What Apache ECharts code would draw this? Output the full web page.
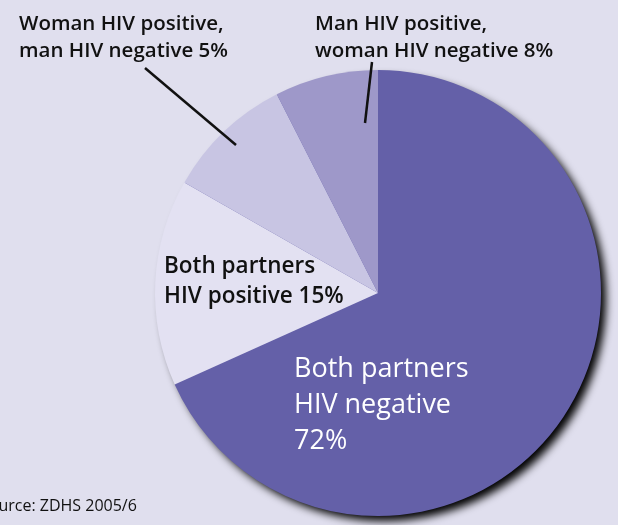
<!DOCTYPE html>
<html><head><meta charset="utf-8">
<script src="https://cdn.jsdelivr.net/npm/echarts@6/dist/echarts.min.js"></script>
<style>html,body{margin:0;padding:0;background:#e0dfee;}#c{width:618px;height:525px;}</style>
</head><body><div id="c"></div>
<script>
// slice shares as drawn (clockwise from 12 o'clock)
var categories = ['Both partners HIV negative', 'Both partners HIV positive', 'Woman HIV positive, man HIV negative', 'Man HIV positive, woman HIV negative'];
var values = [68.3, 15.0, 9.25, 7.5];
var labelPercents = ['72%', '15%', '5%', '8%'];
var colors = ['#6460a8', '#e3e1f2', '#c8c5e3', '#9e98c9'];
var sourceText = 'Source: ZDHS 2005/6';

var FONT = '"Open Sans", sans-serif';
var chart = echarts.init(document.getElementById('c'), null, {renderer: 'canvas'});
var cx = 378, cy = 293, R = 223;

var option = {
  backgroundColor: '#e0dfee',
  animation: false,
  series: [
    {
      type: 'pie', silent: true, z: 2,
      center: [cx, cy], radius: R,
      startAngle: 90, clockwise: true,
      label: {show: false}, labelLine: {show: false},
      itemStyle: {borderWidth: 0},
      data: values.map(function (v, i) { return {name: categories[i], value: v, itemStyle: {color: colors[i]}}; })
    }
  ],
  graphic: [
    {type: 'circle', z: -10, shape: {cx: cx, cy: cy, r: R - 1}, style: {fill: '#6460a8', shadowColor: '#000', shadowBlur: 9, shadowOffsetX: 6, shadowOffsetY: 6}},
    {type: 'text', left: 19, top: 11, z: 10, style: {text: 'Woman HIV positive,\nman HIV negative ' + labelPercents[2], font: '600 20.5px ' + FONT, fill: '#111', lineHeight: 27}},
    {type: 'text', left: 315, top: 11, z: 10, style: {text: 'Man HIV positive,\nwoman HIV negative ' + labelPercents[3], font: '600 20.5px ' + FONT, fill: '#111', lineHeight: 27}},
    {type: 'text', left: 164, top: 252, z: 10, style: {text: 'Both partners\nHIV positive ' + labelPercents[1], font: '600 22.5px ' + FONT, fill: '#111', lineHeight: 30}},
    {type: 'text', left: 294, top: 351, z: 10, style: {text: 'Both partners\nHIV negative\n' + labelPercents[0], font: '500 27px ' + FONT, fill: '#ffffff', lineHeight: 36}},
    {type: 'text', left: -20, top: 498, z: 10, style: {text: sourceText, font: '500 16px ' + FONT, fill: '#111'}},
    {type: 'line', z: 10, shape: {x1: 145, y1: 68, x2: 236, y2: 145}, style: {stroke: '#111', lineWidth: 2.5}},
    {type: 'line', z: 10, shape: {x1: 372, y1: 62, x2: 365, y2: 123}, style: {stroke: '#111', lineWidth: 2.5}}
  ]
};
chart.setOption(option);
</script></body></html>
